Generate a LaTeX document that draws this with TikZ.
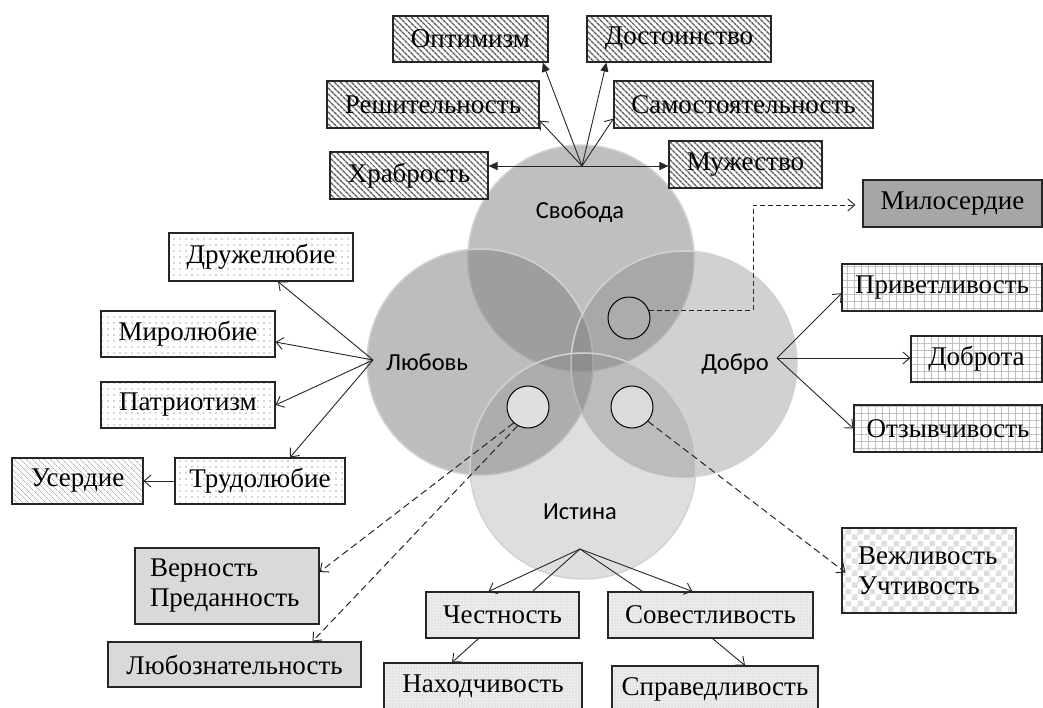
\documentclass[tikz,border=0pt]{standalone}
\usepackage{fontspec}
\setmainfont{Liberation Serif}
\newfontfamily\calib{Carlito}
\usetikzlibrary{patterns,patterns.meta,arrows.meta,calc}

\pgfdeclarepatternformonly{bigcheck}{\pgfqpoint{0pt}{0pt}}{\pgfqpoint{12pt}{12pt}}{\pgfqpoint{12pt}{12pt}}{%
  \pgfpathrectangle{\pgfpointorigin}{\pgfqpoint{6pt}{6pt}}%
  \pgfpathrectangle{\pgfqpoint{6pt}{6pt}}{\pgfqpoint{6pt}{6pt}}%
  \pgfusepath{fill}}

\tikzset{
  box/.style={draw=black!85, line width=1.1pt, minimum height=46pt, inner sep=0pt,
    font=\fontsize{27}{30}\selectfont, text=black},
  hatchbox/.style={box, pattern={Lines[angle=-45,distance=4pt,line width=1.4pt]}, pattern color=black!65},
  dotbox/.style={box, pattern={Dots[distance=6pt,radius=0.9pt]}, pattern color=gray!65},
  usbox/.style={box, pattern={Lines[angle=-45,distance=4pt,line width=0.7pt]}, pattern color=gray!60},
  gridbox/.style={box, pattern={Hatch[angle=0,distance=7pt,line width=0.5pt]}, pattern color=gray!50},
  stipbox/.style={box, preaction={fill=gray!15}, pattern={Dots[distance=3pt,radius=0.7pt]}, pattern color=gray!45},
  checkbox/.style={box, pattern=bigcheck, pattern color=gray!25},
  greybox/.style={box, fill=gray!30},
  darkbox/.style={box, fill=gray!70},
  bigc/.style={circle, minimum size=226pt, inner sep=0pt, draw=gray!35, line width=1.5pt, fill=gray},
  smallc/.style={circle, minimum size=42pt, inner sep=0pt, draw=black, line width=1pt},
  clabel/.style={font=\calib\fontsize{24.5}{28}\selectfont, text=black},
  ln/.style={line width=0.9pt, draw=black!85},
  fa/.style={ln, -{Triangle[length=9pt,width=8pt]}},
  oa/.style={ln, -{Straight Barb[length=7pt,width=12pt]}},
  da/.style={ln, line width=1pt, dash pattern=on 7pt off 4pt, -{Straight Barb[length=7pt,width=12pt]}},
}

\begin{document}
\begin{tikzpicture}[x=1pt, y=-1pt]
\useasboundingbox (0,0) rectangle (1043,707);

% big circles
\node[bigc, fill opacity=0.50] (svo) at (581,258) {};
\node[bigc, fill opacity=0.52] (lub) at (480,362) {};
\node[bigc, fill opacity=0.36] (dob) at (684,364) {};
\node[bigc, fill opacity=0.26] (ist) at (583,466) {};

\node[clabel] (svoL) at (580,212) {Свобода};
\node[clabel] (lubL) at (427,362) {Любовь};
\node[clabel] (dobL) at (735,364) {Добро};
\node[clabel] (istL) at (580,512) {Истина};

% small circles
\node[smallc, fill=gray!65] (c1) at (629,318) {};
\node[smallc, fill=gray!28] (c2) at (632,407) {};
\node[smallc, fill=gray!25] (c3) at (528,407) {};

% hubs
\coordinate (hubS) at (582,166);
\coordinate (hubL) at (373,360);
\coordinate (hubD) at (777,358);
\coordinate (hubI) at (580,549);
\coordinate (bendM) at (753,205);

% Свобода boxes
\node[hatchbox, minimum width=155pt] (opt) at (470.5,39) {Оптимизм};
\node[hatchbox, minimum width=184pt] (dost) at (679,39) {Достоинство};
\node[hatchbox, minimum width=212pt, minimum height=47pt] (resh) at (433,104.5) {Решительность};
\node[hatchbox, minimum width=259pt, minimum height=47pt] (samo) at (743.5,104.5) {Самостоятельность};
\node[hatchbox, minimum width=158pt, minimum height=47pt] (hrab) at (409,175.5) {Храбрость};
\node[hatchbox, minimum width=153pt, minimum height=47pt] (muzh) at (745.5,164.5) {Мужество};

% Любовь boxes
\node[dotbox, minimum width=184pt, minimum height=48pt] (druz) at (261,257) {Дружелюбие};
\node[dotbox, minimum width=174pt] (mir) at (188,334) {Миролюбие};
\node[dotbox, minimum width=174pt] (patr) at (188,405) {Патриотизм};
\node[dotbox, minimum width=170pt] (trud) at (260,481) {Трудолюбие};
\node[usbox, minimum width=131pt] (userd) at (77.5,481) {Усердие};

% Добро boxes
\node[darkbox, minimum width=179pt, minimum height=47pt] (mil) at (952.5,203.5) {Милосердие};
\node[gridbox, minimum width=200pt, minimum height=47pt] (priv) at (942,287.5) {Приветливость};
\node[gridbox, minimum width=131pt] (dobrota) at (976.5,359) {Доброта};
\node[gridbox, minimum width=188pt, minimum height=47pt] (otz) at (948,428.5) {Отзывчивость};

% Истина boxes
\node[stipbox, minimum width=153pt] (chest) at (502.5,615) {Честность};
\node[stipbox, minimum width=205pt] (sov) at (710.5,615) {Совестливость};
\node[stipbox, minimum width=198pt] (nah) at (483,686) {Находчивость};
\node[stipbox, minimum width=206pt] (sprav) at (715,689) {Справедливость};

% intersection boxes
\node[greybox, minimum width=184pt, minimum height=76pt, text width=154pt, inner xsep=15pt, align=left] (ver) at (227,586) {Верность\\Преданность};
\node[greybox, minimum width=253pt, minimum height=45pt] (lyub) at (234.5,664.5) {Любознательность};
\node[checkbox, minimum width=174pt, minimum height=85pt, text width=142pt, inner xsep=16pt, align=left] (vezh) at (929,570.5) {Вежливость\\Учтивость};

% Свобода connectors
\draw[fa] (hubS) -- ([xshift=-6pt]opt.south east);
\draw[fa] (hubS) -- ([xshift=20pt]dost.south west);
\draw[oa] (hubS) -- ([yshift=8pt]resh.south east);
\draw[oa] (hubS) -- ([yshift=10pt]samo.south west);
\draw[ln, {Triangle[length=9pt,width=8pt]}-{Triangle[length=9pt,width=8pt]}] (hrab.east |- hubS) -- (muzh.west |- hubS);

% Любовь connectors
\draw[oa] (hubL) -- ([xshift=17pt]druz.south);
\draw[oa] (hubL) -- ([yshift=-8pt]mir.east);
\draw[oa] (hubL) -- (patr.east);
\draw[oa] (hubL) -- ([xshift=30pt]trud.north);
\draw[oa] (trud.west) -- (userd.east);

% Добро connectors
\draw[oa] (hubD) -- ([yshift=18pt]priv.south west);
\draw[oa] (hubD) -- (dobrota.west |- hubD);
\draw[oa] (hubD) -- (otz.west);

% Истина connectors
\draw[oa] (hubI) -- ([xshift=-14pt]chest.north);
\draw[ln] (hubI) -- ([xshift=30pt]chest.north);
\draw[ln] (hubI) -- ([xshift=-68pt]sov.north);
\draw[oa] (hubI) -- ([xshift=-18pt]sov.north);
\draw[oa] ([xshift=-24pt]chest.south) -- ([xshift=-31pt]nah.north);
\draw[oa] ([xshift=2pt]sov.south) -- ([xshift=30pt]sprav.north);

% dashed connectors
\draw[ln, dash pattern=on 5pt off 3pt, -{Straight Barb[length=7pt,width=12pt]}] (c1.21) -| (bendM) -- ([xshift=-7pt]mil.west |- bendM);
\draw[da] (c2.-42) -- ([xshift=4pt,yshift=-2pt]vezh.west);
\draw[da] (c3.228) -- ([yshift=14pt]ver.east);
\draw[da] (c3.241) -- ([xshift=78pt]lyub.north);
\end{tikzpicture}
\end{document}
